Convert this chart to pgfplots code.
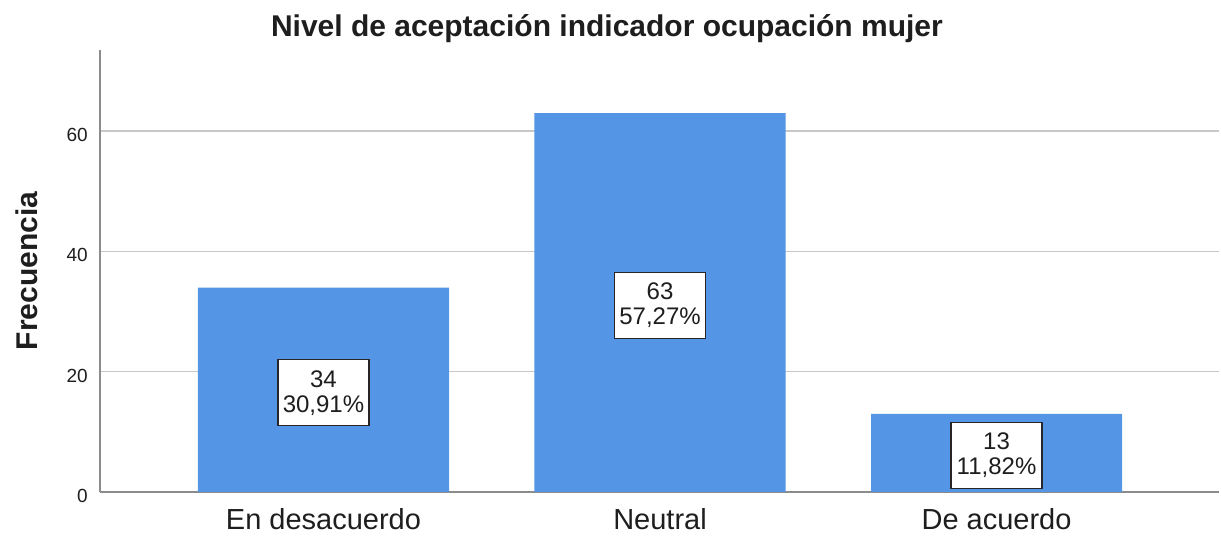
\documentclass[border=0pt]{standalone}
\usepackage{pgfplots}
\usepackage{pgfplotstable}
\pgfplotsset{compat=1.18}
\usepackage{fontspec}
\setmainfont{Liberation Sans}
\definecolor{barblue}{RGB}{84,150,229}
\definecolor{gridgray}{RGB}{200,200,200}
\definecolor{axisgray}{RGB}{140,140,140}
\definecolor{txt}{RGB}{30,30,30}

\pgfplotstableread{
x y n p
0 16.5 34 30.91
1 31.0 63 57.27
2 6.1 13 11.82
}\labtab

\begin{document}
\begin{tikzpicture}
\begin{axis}[
  scale only axis, width=559.5pt, height=221pt,
  xmin=-0.664, xmax=2.661, ymin=0, ymax=73.5,
  axis x line*=bottom, axis y line*=left,
  axis line style={axisgray, line width=0.6pt, -},
  xtick={0,1,2}, xticklabels={En desacuerdo, Neutral, De acuerdo},
  ytick={0,20,40,60},
  ymajorgrids, grid style={gridgray, line width=0.7pt},
  major tick length=0pt,
  tick label style={txt},
  xticklabel style={font=\fontsize{14.5}{16}\selectfont, anchor=base, yshift=-19pt},
  yticklabel style={font=\fontsize{9.5}{11}\selectfont, anchor=east, inner sep=0pt, xshift=-6pt, yshift=-2pt},
  /pgf/number format/assume math mode=true,
  ylabel={Frecuencia},
  ylabel style={font=\fontsize{15}{18}\selectfont\bfseries, at={(axis description cs:-0.0652,0.5)}, anchor=center, txt},
  title={Nivel de aceptación indicador ocupación mujer},
  title style={font=\fontsize{15}{18}\selectfont\bfseries, at={(axis description cs:0.453,1)}, anchor=base, yshift=0.8pt, txt},
  clip=false,
]
\path (rel axis cs:-0.0894,-0.0973) rectangle (rel axis cs:1.0018,1.1131);
\addplot[ybar, bar width=0.746, fill=barblue, draw=none] coordinates {(0,34) (1,63) (2,13)};
\addplot[draw=none, mark=none, point meta=explicit,
  visualization depends on={\thisrow{p} \as \pval},
  nodes near coords={\pgfmathprintnumber{\pgfplotspointmeta}\\\pgfmathprintnumber[fixed, fixed zerofill, precision=2, use comma]{\pval}\%},
  every node near coord/.append style={anchor=center, draw=black!85, fill=white, align=center, text=txt,
    font=\fontsize{12}{12.5}\selectfont, inner sep=1pt, minimum width=45.5pt, minimum height=33pt, line width=0.7pt}
] table[x=x, y=y, meta=n]{\labtab};
\end{axis}
\end{tikzpicture}
\end{document}
